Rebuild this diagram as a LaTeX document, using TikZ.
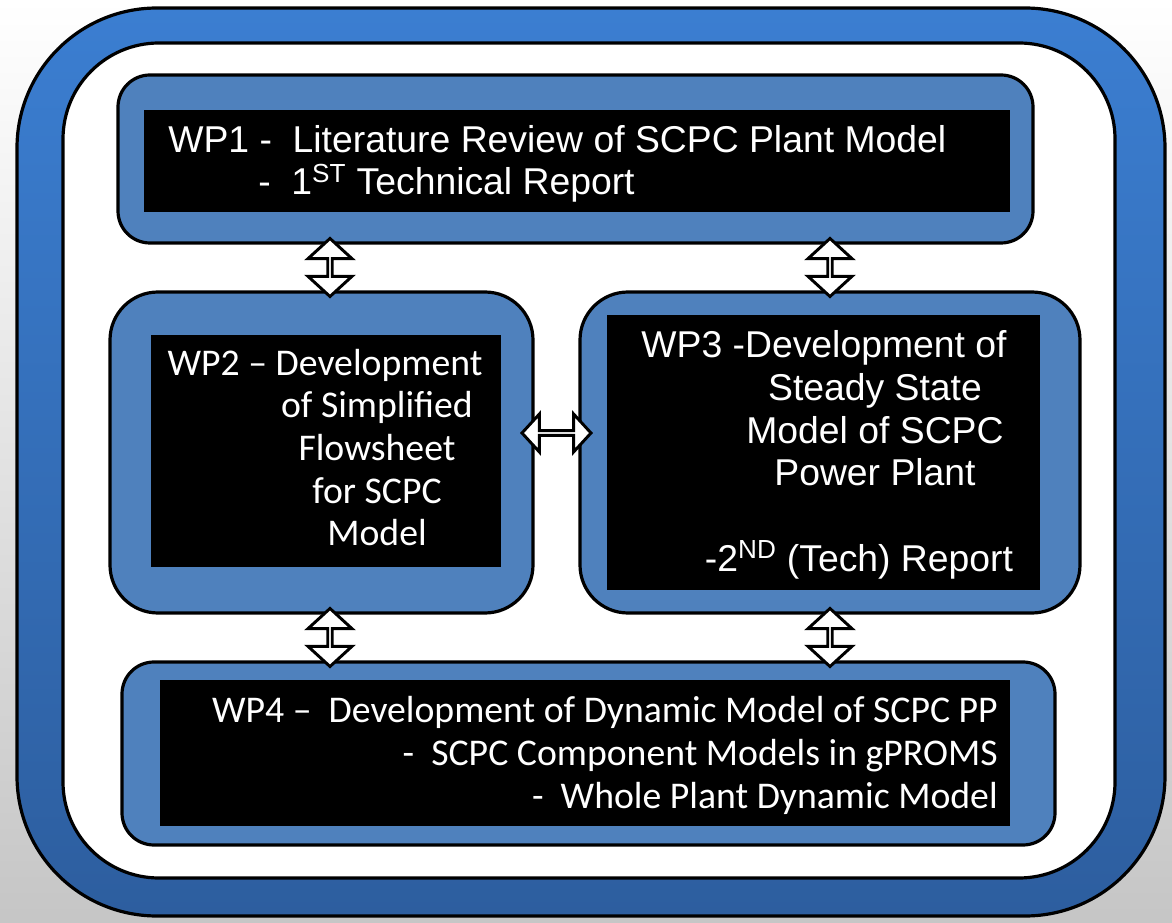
\documentclass[tikz,border=0pt]{standalone}
\usepackage{fontspec}
\setmainfont{Liberation Sans}
\newfontfamily\calibrifont{Carlito}
\usetikzlibrary{shapes.arrows,fit,calc}
\definecolor{frametop}{HTML}{3B7ED1}
\definecolor{framebot}{HTML}{2D5E9F}
\definecolor{boxblue}{HTML}{4F81BD}
\tikzset{
  frameline/.style={draw=black,line width=2.4pt},
  bluebox/.style={draw=black,line width=2.4pt,fill=boxblue,inner sep=0pt,outer sep=0pt},
  blackbox/.style={fill=black,inner sep=0pt,outer sep=0pt},
  arialtext/.style={text=white,inner sep=0pt,font=\fontsize{28pt}{32pt}\selectfont},
  calibritext/.style={text=white,inner sep=0pt,font=\calibrifont\fontsize{28.3pt}{32pt}\selectfont},
  darrow/.style={double arrow,draw=black,fill=white,line width=2.2pt,inner sep=0pt,outer sep=0pt,double arrow tip angle=95},
  vdarrow/.style={darrow,rotate=90,minimum height=43.5pt,minimum width=33pt,double arrow head extend=9.75pt},
  hdarrow/.style={darrow,minimum height=51.75pt,minimum width=28.5pt,double arrow head extend=7.9pt},
}
\begin{document}
\begin{tikzpicture}[x=0.75pt,y=-0.75pt]
\useasboundingbox (0,0) rectangle (1172,923);
\shade[top color=white,bottom color=gray!45] (0,0) rectangle (1172,923);
% outer frame
\path[frameline,top color=frametop,bottom color=framebot,rounded corners=105pt] (17,8) rectangle (1165,916);
\path[frameline,fill=white,rounded corners=72pt] (63,43) rectangle (1115,878);
% blue boxes
\node[bluebox,rounded corners=24pt,fit={(118,75) (1033,243)}] (b1) {};
\node[bluebox,rounded corners=36pt,fit={(110,292) (533,613)}] (b2) {};
\node[bluebox,rounded corners=36pt,fit={(580,292) (1080,613)}] (b3) {};
\node[bluebox,rounded corners=24pt,fit={(122,662) (1055,845)}] (b4) {};
% black panels
\node[blackbox,fit={(144,110) (1010,212)}] (k1) {};
\node[blackbox,fit={(151,335) (501,567)}] (k2) {};
\node[blackbox,fit={(607,315) (1040,590)}] (k3) {};
\node[blackbox,fit={(160,680) (1010,826)}] (k4) {};
% texts (anchor base = baseline of the last line)
\node[arialtext,anchor=base west,align=left] (t1) at (168,195)
  {WP1 -\ \ Literature Review of SCPC Plant Model\\\hspace*{67.5pt}-\ \ 1\textsuperscript{ST} Technical Report};
\node[calibritext,anchor=base,align=center] (t2) at (377,546)
  {\hspace*{-78pt}WP2 – Development\\of Simplified\\Flowsheet\\for SCPC\\Model};
\node[arialtext,anchor=base,align=center] (t3) at (875,571)
  {\hspace*{-76.5pt}WP3 -Development of\\Steady State\\Model of SCPC\\Power Plant\\[32pt]\hspace*{-24pt}-2\textsuperscript{ND} (Tech) Report};
\node[calibritext,anchor=base east,align=right] (t4) at (998,808)
  {WP4 –\ \ Development of Dynamic Model of SCPC PP\\-\ \ SCPC Component Models in gPROMS\\-\ \ Whole Plant Dynamic Model};
% connectors
\coordinate (xl) at (330,0);
\coordinate (xr) at (830,0);
\coordinate (ym) at (0,433);
\node[vdarrow] (a12) at ($(b1.south -| xl)!0.5!(b2.north -| xl)$) {};
\node[vdarrow] (a13) at ($(b1.south -| xr)!0.5!(b3.north -| xr)$) {};
\node[vdarrow] (a24) at ($(b2.south -| xl)!0.5!(b4.north -| xl)$) {};
\node[vdarrow] (a34) at ($(b3.south -| xr)!0.5!(b4.north -| xr)$) {};
\node[hdarrow] (a23) at ($(b2.east |- ym)!0.5!(b3.west |- ym)$) {};
\end{tikzpicture}
\end{document}
